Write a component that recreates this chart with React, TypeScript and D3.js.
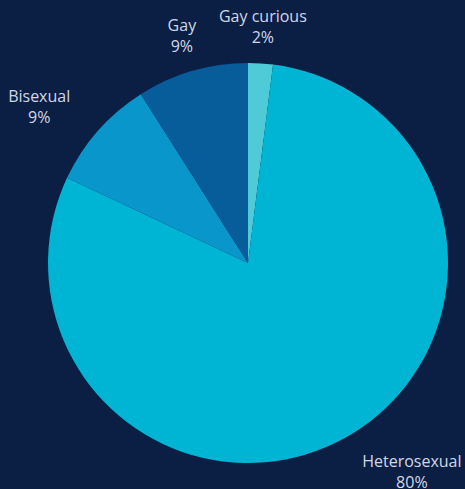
import React from "react";
import * as d3 from "d3";

const categories = ["Gay curious", "Heterosexual", "Bisexual", "Gay"];
const values = [2, 80, 9, 9];
const valueLabels = ["2%", "80%", "9%", "9%"];
const colors = ["#4fcbd8", "#00b4d3", "#0896cb", "#075c9a"];

const W = 465;
const H = 489;
const cx = 248;
const cy = 263;
const R = 200;
const labelR = 237;
const FONT_SIZE = 16;
const FONT_FAMILY = "'Open Sans', sans-serif";

function measure(text: string): number {
  try {
    const c = document.createElement("canvas").getContext("2d");
    if (c) {
      c.font = `${FONT_SIZE}px ${FONT_FAMILY}`;
      return c.measureText(text).width;
    }
  } catch (e) {}
  return text.length * FONT_SIZE * 0.55;
}

export default function App() {
  const pie = d3
    .pie<number>()
    .sort(null)
    .value((d) => d)
    .startAngle(0)
    .endAngle(2 * Math.PI);
  const arcs = pie(values);
  const arc = d3.arc<d3.PieArcDatum<number>>().innerRadius(0).outerRadius(R);

  return (
    <svg
      width={W}
      height={H}
      style={{ position: "absolute", left: 0, top: 0, display: "block" }}
    >
      <rect width={W} height={H} fill="#0b1f45" />
      <g transform={`translate(${cx},${cy})`}>
        {arcs.map((a, i) => (
          <path key={i} d={arc(a) as string} fill={colors[i]} />
        ))}
        {arcs.map((a, i) => {
          const mid = (a.startAngle + a.endAngle) / 2;
          const ax = Math.sin(mid) * labelR;
          const ay = -Math.cos(mid) * labelR;
          const s = Math.sin(mid);
          const bw = Math.max(measure(categories[i]), measure(valueLabels[i]));
          const x = Math.abs(s) < 0.3 ? ax : s > 0 ? ax + bw / 2 : ax - bw / 2;
          return (
            <text
              key={"t" + i}
              x={x}
              y={ay}
              textAnchor="middle"
              fill="#d0d8e6"
              fontFamily={FONT_FAMILY}
              fontSize={FONT_SIZE}
            >
              <tspan x={x} dy={-4}>{categories[i]}</tspan>
              <tspan x={x} dy={21}>{valueLabels[i]}</tspan>
            </text>
          );
        })}
      </g>
    </svg>
  );
}
